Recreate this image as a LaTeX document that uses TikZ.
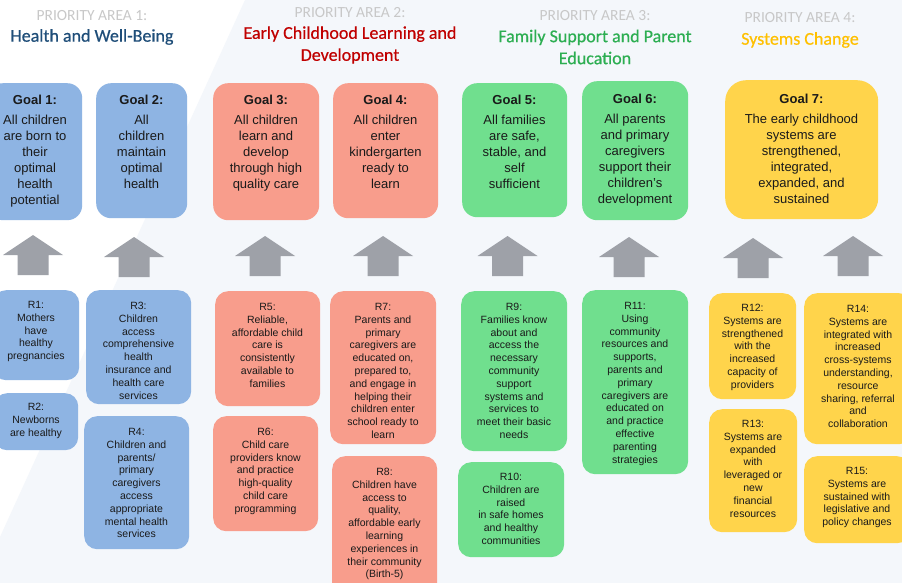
\documentclass[tikz,border=0pt]{standalone}
\usepackage{fontspec}
\setmainfont{Liberation Sans}
\newfontfamily\hdrfont{Carlito}
\newfontfamily\ttlfont[FakeBold=0.5]{Carlito}
\definecolor{bgc}{HTML}{F4F7FB}
\definecolor{bluef}{HTML}{8EB4E3}
\definecolor{salmonf}{HTML}{F89D8C}
\definecolor{greenf}{HTML}{70DF8E}
\definecolor{yellowf}{HTML}{FFD44B}
\definecolor{arrowc}{HTML}{9EA1A8}
\definecolor{txtc}{HTML}{1A1A1A}
\definecolor{pac}{HTML}{C8C8C8}
\definecolor{t1c}{HTML}{1F4E79}
\definecolor{t2c}{HTML}{C00000}
\definecolor{t3c}{HTML}{2DAE52}
\definecolor{t4c}{HTML}{FFC000}
\tikzset{
  boxshape/.style={rectangle, draw=none, inner sep=0, anchor=north west},
  goalbox/.style={boxshape, rounded corners=15pt},
  resbox/.style={boxshape, rounded corners=13pt},
  goaltxt/.style={anchor=north, align=center, inner sep=0, text=txtc, font=\fontsize{13}{16}\selectfont},
  rtxt/.style={anchor=north, align=center, inner sep=0, text=txtc, font=\fontsize{10.5}{12.8}\selectfont},
  palabel/.style={inner sep=0, text=pac, font=\hdrfont\fontsize{15.5}{18}\selectfont},
  ttl/.style={inner sep=0, align=center, font=\ttlfont\fontsize{18}{22}\selectfont},
  bigarrow/.pic={\fill[arrowc] (0,0) -- (30,20) -- (15.5,20) -- (15.5,40) -- (-15.5,40) -- (-15.5,20) -- (-30,20) -- cycle;}
}
\newcommand{\bx}[7]{\node[#2, fill=#3, minimum width=#6pt-#4pt, minimum height=#7pt-#5pt] (#1) at (#4,#5) {};}
\begin{document}
\begin{tikzpicture}[x=1pt,y=-1pt]
\useasboundingbox (0,0) rectangle (902,583);
\clip (0,0) rectangle (902,583);
\fill[white] (0,0) rectangle (902,583);
\fill[bgc] (245,0) -- (902,0) -- (902,583) -- (-21,583) -- cycle;

% headers
\node[palabel] (pa1) at (92,16) {PRIORITY AREA 1:};
\node[ttl, text=t1c] (h1) at (92,37) {Health and Well-Being};
\node[palabel] (pa2) at (350,13) {PRIORITY AREA 2:};
\node[ttl, text=t2c] (h2) at (350,45) {Early Childhood Learning and\\Development};
\node[palabel] (pa3) at (595,16) {PRIORITY AREA 3:};
\node[ttl, text=t3c] (h3) at (595,47) {Family Support and Parent\\Education};
\node[palabel] (pa4) at (800,18) {PRIORITY AREA 4:};
\node[ttl, text=t4c] (h4) at (800,40) {Systems Change};

% goal boxes
\bx{g1}{goalbox}{bluef}{-12}{83}{82}{220}
\bx{g2}{goalbox}{bluef}{96}{83}{187}{218}
\bx{g3}{goalbox}{salmonf}{213}{83}{319}{220}
\bx{g4}{goalbox}{salmonf}{333}{83}{438}{218}
\bx{g5}{goalbox}{greenf}{462}{83}{567}{217}
\bx{g6}{goalbox}{greenf}{582}{81}{688}{220}
\bx{g7}{goalbox, rounded corners=21pt}{yellowf}{725}{80}{878}{219}

\node[goaltxt] (g1t) at (35,95) {\textbf{Goal 1:}\\[4pt]All children\\are born to\\their\\optimal\\health\\potential};
\node[goaltxt] (g2t) at (141.5,95) {\textbf{Goal 2:}\\[4pt]All\\children\\maintain\\optimal\\health};
\node[goaltxt] (g3t) at (266,95) {\textbf{Goal 3:}\\[4pt]All children\\learn and\\develop\\through high\\quality care};
\node[goaltxt] (g4t) at (385.5,95) {\textbf{Goal 4:}\\[4pt]All children\\enter\\kindergarten\\ready to\\learn};
\node[goaltxt] (g5t) at (514.5,95) {\textbf{Goal 5:}\\[4pt]All families\\are safe,\\stable, and\\self\\sufficient};
\node[goaltxt] (g6t) at (635,94) {\textbf{Goal 6:}\\[4pt]All parents\\and primary\\caregivers\\support their\\children's\\development};
\node[goaltxt] (g7t) at (801.5,94) {\textbf{Goal 7:}\\[4pt]The early childhood\\systems are\\strengthened,\\integrated,\\expanded, and\\sustained};

% arrows
\pic (a1) at (33,235) {bigarrow};
\pic (a2) at (134,237) {bigarrow};
\pic (a3) at (265,236) {bigarrow};
\pic (a4) at (383,236) {bigarrow};
\pic (a5) at (507.5,236) {bigarrow};
\pic (a6) at (629,237) {bigarrow};
\pic (a7) at (753,238) {bigarrow};
\pic (a8) at (853,236) {bigarrow};

% result boxes
\bx{r1}{resbox}{bluef}{-7}{290}{79}{380}
\bx{r2}{resbox}{bluef}{-6}{393}{78}{450}
\bx{r3}{resbox}{bluef}{86}{290}{191}{404}
\bx{r4}{resbox}{bluef}{84}{416}{189}{549}
\bx{r5}{resbox}{salmonf}{215}{291}{320}{406}
\bx{r6}{resbox}{salmonf}{213}{416}{318}{531}
\bx{r7}{resbox}{salmonf}{330}{291}{436}{444}
\bx{r8}{resbox}{salmonf}{332}{456}{437}{598}
\bx{r9}{resbox}{greenf}{461}{291}{567}{451}
\bx{r10}{resbox}{greenf}{458}{462}{564}{557}
\bx{r11}{resbox}{greenf}{582}{290}{688}{474}
\bx{r12}{resbox}{yellowf}{709}{293}{796}{399}
\bx{r13}{resbox}{yellowf}{709}{409}{797}{532}
\bx{r14}{resbox}{yellowf}{804}{293}{912}{444}
\bx{r15}{resbox}{yellowf}{804}{456}{910}{543}

\node[rtxt] (r1t) at (36,301) {R1:\\Mothers\\have\\healthy\\pregnancies};
\node[rtxt] (r2t) at (36,403) {R2:\\Newborns\\are healthy};
\node[rtxt] (r3t) at (138.5,302) {R3:\\Children\\access\\comprehensive\\health\\insurance and\\health care\\services};
\node[rtxt] (r4t) at (136.5,428) {R4:\\Children and\\parents/\\primary\\caregivers\\access\\appropriate\\mental health\\services};
\node[rtxt] (r5t) at (267.5,303) {R5:\\Reliable,\\affordable child\\care is\\consistently\\available to\\families};
\node[rtxt] (r6t) at (265.5,428) {R6:\\Child care\\providers know\\and practice\\high-quality\\child care\\programming};
\node[rtxt] (r7t) at (383,303) {R7:\\Parents and\\primary\\caregivers are\\educated on,\\prepared to,\\and engage in\\helping their\\children enter\\school ready to\\learn};
\node[rtxt] (r8t) at (384.5,468) {R8:\\Children have\\access to\\quality,\\affordable early\\learning\\experiences in\\their community\\(Birth-5)};
\node[rtxt] (r9t) at (514,303) {R9:\\Families know\\about and\\access the\\necessary\\community\\support\\systems and\\services to\\meet their basic\\needs};
\node[rtxt] (r10t) at (511,473) {R10:\\Children are\\raised\\in safe homes\\and healthy\\communities};
\node[rtxt] (r11t) at (635,302) {R11:\\Using\\community\\resources and\\supports,\\parents and\\primary\\caregivers are\\educated on\\and practice\\effective\\parenting\\strategies};
\node[rtxt] (r12t) at (752.5,304) {R12:\\Systems are\\strengthened\\with the\\increased\\capacity of\\providers};
\node[rtxt] (r13t) at (753,420) {R13:\\Systems are\\expanded\\with\\leveraged or\\new\\financial\\resources};
\node[rtxt] (r14t) at (858,305) {R14:\\Systems are\\integrated with\\increased\\cross-systems\\understanding,\\resource\\sharing, referral\\and\\collaboration};
\node[rtxt] (r15t) at (857,467) {R15:\\Systems are\\sustained with\\legislative and\\policy changes};
\end{tikzpicture}
\end{document}
